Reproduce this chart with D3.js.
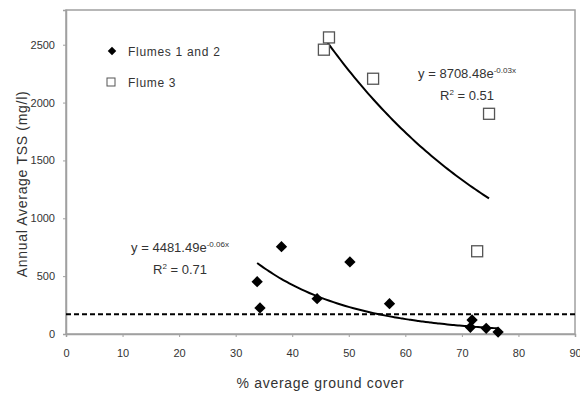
<!DOCTYPE html>
<html>
<head>
<meta charset="utf-8">
<script src="https://cdn.jsdelivr.net/npm/d3@7"></script>
<style>
  body { margin: 0; background: #fff; }
  text { font-family: "Liberation Sans", Arial, sans-serif; fill: #333; }
</style>
</head>
<body>
<div id="chart"></div>
<script>
// flumes 1 and 2
const coverA = [33.8, 34.3, 38.1, 44.4, 50.2, 57.2, 71.8, 71.5, 74.3, 76.4];
const tssA = [452, 225, 755, 305, 623, 262, 121, 58, 49, 17];
// flume 3
const coverB = [45.6, 46.5, 54.3, 74.8, 72.7];
const tssB = [2457, 2563, 2206, 1903, 715];

const threshold = 170;
const xTicks = [0, 10, 20, 30, 40, 50, 60, 70, 80, 90];
const yTicks = [0, 500, 1000, 1500, 2000, 2500];

const width = 580;
const height = 394;
const margin = { top: 10, right: 5, bottom: 60, left: 66 };

const svg = d3.select("#chart")
    .append("svg")
    .attr("width", width)
    .attr("height", height);

const x = d3.scaleLinear().domain([0, 90]).range([margin.left, width - margin.right]);
const y = d3.scaleLinear().domain([0, 2800]).range([height - margin.bottom, margin.top]);

// frame
svg.append("rect")
    .attr("x", x(0))
    .attr("y", y(2800))
    .attr("width", x(90) - x(0))
    .attr("height", y(0) - y(2800))
    .attr("fill", "none")
    .attr("stroke", "#a0a0a0")
    .attr("stroke-width", 1.5);

const xAxis = svg.append("g")
    .attr("transform", `translate(0,${y(0)})`)
    .call(d3.axisBottom(x).tickValues(xTicks).tickFormat(d3.format("d")).tickSize(3).tickPadding(12));
const yAxis = svg.append("g")
    .attr("transform", `translate(${x(0)},0)`)
    .call(d3.axisLeft(y).tickValues(yTicks).tickFormat(d3.format("d")).tickSize(3).tickPadding(8));

[xAxis, yAxis].forEach(g => {
    g.select(".domain").attr("stroke", "#a0a0a0").attr("stroke-width", 1.5);
    g.selectAll(".tick line").attr("stroke", "#a0a0a0");
    g.selectAll(".tick text")
        .style("font-size", "11px")
        .style("font-family", "'Liberation Sans', Arial, sans-serif")
        .attr("fill", "#444");
});

// axis titles
svg.append("text")
    .attr("x", (x(0) + x(90)) / 2)
    .attr("y", 388)
    .attr("text-anchor", "middle")
    .style("font-size", "14px")
    .style("letter-spacing", "0.7px")
    .text("% average ground cover");

svg.append("text")
    .attr("transform", `translate(27,184) rotate(-90)`)
    .attr("text-anchor", "middle")
    .style("font-size", "14px")
    .style("letter-spacing", "0.7px")
    .text("Annual Average TSS (mg/l)");

// threshold line
svg.append("line")
    .attr("x1", x(0))
    .attr("x2", x(90))
    .attr("y1", y(threshold))
    .attr("y2", y(threshold))
    .attr("stroke", "#000")
    .attr("stroke-width", 2)
    .attr("stroke-dasharray", "5,3");

// exponential fit (least squares on ln y)
function expFit(xs, ys) {
    const ls = ys.map(v => Math.log(v));
    const mx = d3.mean(xs), ml = d3.mean(ls);
    const b = d3.sum(xs, (v, i) => (v - mx) * (ls[i] - ml)) / d3.sum(xs, v => (v - mx) * (v - mx));
    const a = Math.exp(ml - b * mx);
    return { a, b };
}

const line = d3.line().x(d => x(d[0])).y(d => y(d[1])).curve(d3.curveBasis);

[[coverA, tssA], [coverB, tssB]].forEach(([xs, ys]) => {
    const fit = expFit(xs, ys);
    const lo = d3.min(xs), hi = d3.max(xs);
    const pts = d3.range(0, 61).map(i => {
        const xv = lo + (hi - lo) * i / 60;
        return [xv, fit.a * Math.exp(fit.b * xv)];
    });
    svg.append("path")
        .attr("d", line(pts))
        .attr("fill", "none")
        .attr("stroke", "#000")
        .attr("stroke-width", 2);
});

// points (diamond = rotated square)
const diamond = d3.symbol().type(d3.symbolSquare).size(64);

svg.selectAll(".ptA")
    .data(coverA.map((c, i) => [c, tssA[i]]))
    .enter().append("path")
    .attr("class", "ptA")
    .attr("transform", d => `translate(${x(d[0])},${y(d[1])}) rotate(45)`)
    .attr("d", diamond)
    .attr("fill", "#000");

svg.selectAll(".ptB")
    .data(coverB.map((c, i) => [c, tssB[i]]))
    .enter().append("rect")
    .attr("class", "ptB")
    .attr("x", d => x(d[0]) - 5.5)
    .attr("y", d => y(d[1]) - 5.5)
    .attr("width", 11)
    .attr("height", 11)
    .attr("fill", "#fff")
    .attr("stroke", "#555")
    .attr("stroke-width", 1.3);

// legend
svg.append("path")
    .attr("transform", "translate(112,51) rotate(45)")
    .attr("d", d3.symbol().type(d3.symbolSquare).size(36))
    .attr("fill", "#000");
svg.append("text")
    .attr("x", 128).attr("y", 56)
    .style("font-size", "12px")
    .style("letter-spacing", "0.7px")
    .text("Flumes 1 and 2");
svg.append("rect")
    .attr("x", 107).attr("y", 78)
    .attr("width", 8).attr("height", 8)
    .attr("fill", "#fff")
    .attr("stroke", "#555")
    .attr("stroke-width", 1);
svg.append("text")
    .attr("x", 128).attr("y", 87)
    .style("font-size", "12px")
    .style("letter-spacing", "0.7px")
    .text("Flume 3");

// equations
function equation(cx, by, coef, expo, r2) {
    const t = svg.append("text")
        .attr("x", cx).attr("y", by)
        .attr("text-anchor", "middle")
        .style("font-size", "13px");
    t.append("tspan").text(`y = ${coef}e`);
    t.append("tspan").attr("dy", -5).style("font-size", "8px").text(expo);
    const r = svg.append("text")
        .attr("x", cx).attr("y", by + 22)
        .attr("text-anchor", "middle")
        .style("font-size", "13px");
    r.append("tspan").text("R");
    r.append("tspan").attr("dy", -5).style("font-size", "8px").text("2");
    r.append("tspan").attr("dy", 5).text(` = ${r2}`);
}

equation(467, 78, "8708.48", "-0.03x", "0.51");
equation(180, 252, "4481.49", "-0.06x", "0.71");
</script>
</body>
</html>
